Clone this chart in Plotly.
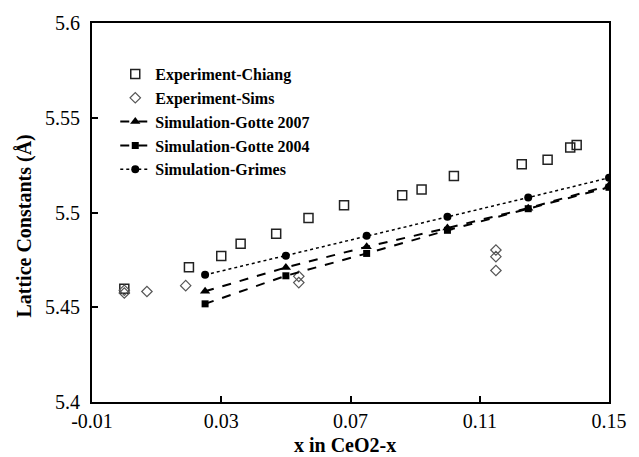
import plotly.graph_objects as go

# Experiment-Chiang (open squares)
chiang_x = [0.0, 0.020, 0.030, 0.036, 0.047, 0.057, 0.068, 0.086, 0.092, 0.102, 0.123, 0.131, 0.138, 0.140]
chiang_y = [5.4598, 5.4711, 5.4770, 5.4835, 5.4888, 5.4971, 5.5038, 5.5091, 5.5122, 5.5192, 5.5255, 5.5279, 5.5343, 5.5356]

# Experiment-Sims (open diamonds)
sims_x = [0.0, 0.0, 0.007, 0.019, 0.054, 0.054, 0.115, 0.115, 0.115]
sims_y = [5.4590, 5.4575, 5.4583, 5.4614, 5.4663, 5.4630, 5.4802, 5.4767, 5.4694]

# Simulations
sim_x = [0.025, 0.05, 0.075, 0.1, 0.125, 0.15]
gotte2007_y = [5.4584, 5.4710, 5.4819, 5.4918, 5.5023, 5.5142]
gotte2004_y = [5.4518, 5.4666, 5.4784, 5.4906, 5.5020, 5.5133]
grimes_y = [5.4671, 5.4772, 5.4877, 5.4978, 5.5079, 5.5183]

x_ticks = [-0.01, 0.03, 0.07, 0.11, 0.15]
y_ticks = [5.4, 5.45, 5.5, 5.55, 5.6]

SERIF = "Liberation Serif, Times New Roman, serif"

fig = go.Figure()
fig.add_trace(go.Scatter(x=chiang_x, y=chiang_y, mode="markers", name="<b>Experiment-Chiang</b>",
                         marker=dict(symbol="square-open", size=9, color="#222", line=dict(width=1.5, color="#222"))))
fig.add_trace(go.Scatter(x=sims_x, y=sims_y, mode="markers", name="<b>Experiment-Sims</b>",
                         marker=dict(symbol="diamond-open", size=8, color="#555", line=dict(width=1.2, color="#555"))))
fig.add_trace(go.Scatter(x=sim_x, y=gotte2007_y, mode="lines+markers", name="<b>Simulation-Gotte 2007</b>",
                         line=dict(color="black", width=2, dash="dash"),
                         marker=dict(symbol="triangle-up", size=9, color="black")))
fig.add_trace(go.Scatter(x=sim_x, y=gotte2004_y, mode="lines+markers", name="<b>Simulation-Gotte 2004</b>",
                         line=dict(color="black", width=2, dash="dash"),
                         marker=dict(symbol="square", size=7, color="black")))
fig.add_trace(go.Scatter(x=sim_x, y=grimes_y, mode="lines+markers", name="<b>Simulation-Grimes</b>",
                         line=dict(color="black", width=1.5, dash="dot"),
                         marker=dict(symbol="circle", size=8, color="black")))

fig.update_layout(
    width=639, height=457,
    margin=dict(l=92, r=20, t=19, b=55),
    plot_bgcolor="white", paper_bgcolor="white",
    font=dict(family=SERIF, color="black", size=20),
    showlegend=True,
    legend=dict(x=0.045, y=0.91, xanchor="left", yanchor="top",
                font=dict(family=SERIF, size=16, color="black"),
                bgcolor="rgba(0,0,0,0)", itemwidth=30),
    xaxis=dict(range=[-0.01, 0.15], tickvals=x_ticks, ticktext=[f"{v:g}" for v in x_ticks],
               showgrid=False, zeroline=False, showline=True, linecolor="black", linewidth=2,
               mirror=True, ticks="inside", ticklen=6, tickwidth=1.5, tickcolor="black",
               tickfont=dict(size=20, family=SERIF)),
    yaxis=dict(range=[5.4, 5.6], tickvals=y_ticks, ticktext=[f"{v:g}" for v in y_ticks],
               showgrid=False, zeroline=False, showline=True, linecolor="black", linewidth=2,
               mirror=True, ticks="inside", ticklen=6, tickwidth=1.5, tickcolor="black",
               tickfont=dict(size=20, family=SERIF), ticklabelstandoff=6),
    annotations=[
        dict(text="<b>x in CeO2-x</b>", xref="paper", yref="paper", x=0.49, y=-0.078,
             xanchor="center", yanchor="top", showarrow=False, font=dict(size=20, family=SERIF)),
        dict(text="<b>Lattice Constants (Å)</b>", xref="paper", yref="paper", x=-0.13, y=0.465,
             xanchor="center", yanchor="middle", textangle=-90, showarrow=False,
             font=dict(size=20, family=SERIF)),
    ],
)

fig.write_html("out.html")
